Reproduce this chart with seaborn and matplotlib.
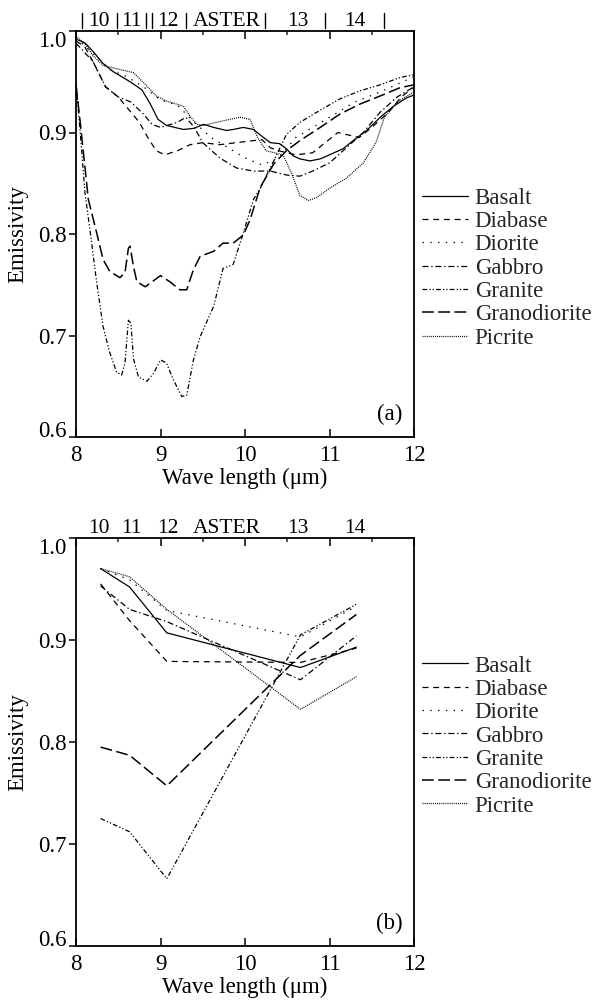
import numpy as np
import pandas as pd
import matplotlib
matplotlib.use("Agg")
import matplotlib.pyplot as plt
import seaborn as sns

sns.set_theme(style="ticks")
plt.rcParams["font.family"] = ["Liberation Serif", "DejaVu Serif"]
plt.rcParams["lines.scale_dashes"] = False

rocks = ["Basalt", "Diabase", "Diorite", "Gabbro", "Granite", "Granodiorite", "Picrite"]

# ---------------- panel (a): laboratory spectra ----------------
basalt_x = [8.0, 8.11, 8.2, 8.32, 8.44, 8.64, 8.78, 8.88, 8.97, 9.07, 9.17, 9.27, 9.39, 9.51,
            9.63, 9.78, 9.86, 9.98, 10.1, 10.22, 10.3, 10.41, 10.49, 10.57, 10.65, 10.77,
            10.89, 11.0, 11.16, 11.28, 11.44, 11.6, 11.76, 11.91, 12.0]
basalt_y = [0.992, 0.988, 0.980, 0.968, 0.960, 0.950, 0.942, 0.928, 0.913, 0.907, 0.905, 0.903,
            0.904, 0.908, 0.905, 0.902, 0.903, 0.905, 0.903, 0.895, 0.890, 0.889, 0.884, 0.877,
            0.874, 0.872, 0.874, 0.878, 0.884, 0.892, 0.902, 0.915, 0.926, 0.934, 0.937]

diabase_x = [8.0, 8.1, 8.2, 8.35, 8.5, 8.65, 8.75, 8.85, 8.95, 9.05, 9.2, 9.35, 9.5, 9.7, 9.9,
             10.1, 10.2, 10.3, 10.4, 10.6, 10.8, 10.95, 11.1, 11.2, 11.35, 11.5, 11.7, 11.85, 12.0]
diabase_y = [0.990, 0.985, 0.970, 0.945, 0.935, 0.920, 0.910, 0.895, 0.882, 0.878, 0.882, 0.888,
             0.890, 0.888, 0.890, 0.892, 0.893, 0.885, 0.882, 0.878, 0.880, 0.890, 0.900, 0.898,
             0.895, 0.905, 0.920, 0.935, 0.945]

diorite_x = [8.0, 8.2, 8.4, 8.6, 8.8, 9.0, 9.2, 9.4, 9.6, 9.8, 10.0, 10.2, 10.4, 10.6, 10.8,
             11.0, 11.3, 11.6, 12.0]
diorite_y = [0.993, 0.978, 0.962, 0.955, 0.945, 0.932, 0.927, 0.910, 0.895, 0.885, 0.875, 0.868,
             0.875, 0.895, 0.905, 0.915, 0.930, 0.940, 0.955]

gabbro_x = [8.0, 8.2, 8.35, 8.5, 8.65, 8.8, 8.9, 9.0, 9.2, 9.3, 9.4, 9.5, 9.7, 9.9, 10.1, 10.3,
            10.5, 10.65, 10.8, 11.0, 11.2, 11.4, 11.6, 11.8, 12.0]
gabbro_y = [0.988, 0.970, 0.945, 0.935, 0.930, 0.918, 0.908, 0.905, 0.910, 0.915, 0.905, 0.890,
            0.875, 0.865, 0.862, 0.862, 0.858, 0.857, 0.862, 0.870, 0.885, 0.900, 0.920, 0.935,
            0.945]

granite_x = [8.0, 8.05, 8.107, 8.17, 8.245, 8.32, 8.40, 8.48, 8.54, 8.58, 8.62, 8.65, 8.68, 8.74,
             8.84, 8.92, 9.0, 9.07, 9.15, 9.25, 9.31, 9.39, 9.47, 9.63, 9.74, 9.86, 9.98, 10.1,
             10.18, 10.34, 10.49, 10.65, 10.89, 11.12, 11.36, 11.6, 11.83, 12.0]
granite_y = [0.950, 0.900, 0.840, 0.801, 0.752, 0.709, 0.683, 0.664, 0.661, 0.673, 0.715, 0.712,
             0.677, 0.659, 0.655, 0.663, 0.676, 0.673, 0.657, 0.640, 0.641, 0.676, 0.699, 0.729,
             0.766, 0.770, 0.801, 0.834, 0.845, 0.872, 0.898, 0.910, 0.922, 0.933, 0.941, 0.947,
             0.954, 0.957]

granodiorite_x = [8.0, 8.05, 8.146, 8.245, 8.32, 8.40, 8.52, 8.58, 8.62, 8.64, 8.68, 8.72, 8.82,
                  9.0, 9.11, 9.23, 9.31, 9.39, 9.47, 9.63, 9.74, 9.86, 9.98, 10.06, 10.18, 10.34,
                  10.49, 10.65, 10.89, 11.12, 11.36, 11.6, 11.83, 12.0]
granodiorite_y = [0.947, 0.910, 0.834, 0.801, 0.775, 0.763, 0.757, 0.762, 0.786, 0.788, 0.768,
                  0.753, 0.748, 0.759, 0.753, 0.745, 0.745, 0.765, 0.778, 0.783, 0.791, 0.791,
                  0.799, 0.814, 0.846, 0.869, 0.882, 0.892, 0.905, 0.918, 0.928, 0.936, 0.944,
                  0.947]

picrite_x = [8.0, 8.1, 8.2, 8.32, 8.52, 8.68, 8.80, 8.95, 9.07, 9.19, 9.27, 9.35, 9.43, 9.51,
             9.66, 9.82, 9.94, 10.06, 10.15, 10.25, 10.35, 10.45, 10.55, 10.65, 10.75, 10.85,
             11.0, 11.2, 11.4, 11.55, 11.65, 11.8, 12.0]
picrite_y = [0.995, 0.988, 0.976, 0.966, 0.962, 0.959, 0.949, 0.936, 0.931, 0.928, 0.926, 0.916,
             0.908, 0.907, 0.910, 0.913, 0.915, 0.913, 0.895, 0.882, 0.880, 0.878, 0.860, 0.838,
             0.833, 0.836, 0.845, 0.855, 0.870, 0.890, 0.915, 0.930, 0.940]

# ---------------- panel (b): ASTER band averages ----------------
band_x = [8.291, 8.634, 9.075, 10.657, 11.318]
b_basalt = [0.970, 0.952, 0.907, 0.873, 0.893]
b_diabase = [0.955, 0.919, 0.879, 0.878, 0.892]
b_diorite = [0.970, 0.959, 0.929, 0.903, 0.933]
b_gabbro = [0.953, 0.930, 0.918, 0.861, 0.904]
b_granite = [0.725, 0.712, 0.666, 0.905, 0.935]
b_granodiorite = [0.795, 0.787, 0.757, 0.885, 0.925]
b_picrite = [0.970, 0.962, 0.930, 0.832, 0.864]

# ASTER TIR band markers (as drawn) and labels
band_edges = [8.07, 8.49, 8.83, 8.90, 9.30, 10.24, 10.95, 11.64]
band_labels = ["10", "11", "12", "ASTER", "13", "14"]
band_label_x = [8.27, 8.66, 9.09, 9.78, 10.62, 11.30]

spec_a = {
    "Basalt": (basalt_x, basalt_y), "Diabase": (diabase_x, diabase_y),
    "Diorite": (diorite_x, diorite_y), "Gabbro": (gabbro_x, gabbro_y),
    "Granite": (granite_x, granite_y), "Granodiorite": (granodiorite_x, granodiorite_y),
    "Picrite": (picrite_x, picrite_y),
}
spec_b = {
    "Basalt": b_basalt, "Diabase": b_diabase, "Diorite": b_diorite, "Gabbro": b_gabbro,
    "Granite": b_granite, "Granodiorite": b_granodiorite, "Picrite": b_picrite,
}
df_a = pd.concat([pd.DataFrame({"wl": x, "em": y, "rock": r}) for r, (x, y) in spec_a.items()])
df_b = pd.concat([pd.DataFrame({"wl": band_x, "em": v, "rock": r}) for r, v in spec_b.items()])

dash_map = {
    "Basalt": "",
    "Diabase": (4.3, 3.4),
    "Diorite": (1.0, 4.6),
    "Gabbro": (4.3, 2.0, 1.0, 2.0),
    "Granite": (3.4, 1.6, 0.9, 1.4, 0.9, 1.6),
    "Granodiorite": (8.5, 3.2),
    "Picrite": (0.7, 0.8),
}
lw_map = {"Basalt": 0.9, "Diabase": 0.9, "Diorite": 0.9, "Gabbro": 0.9, "Granite": 0.9,
          "Granodiorite": 1.1, "Picrite": 0.9}

FS = 16.5
FS_BAND = 15.5
fig = plt.figure(figsize=(5.99, 10.01), dpi=100)
W, H = 599.0, 1001.0
ax_a = fig.add_axes([76 / W, 1 - 437 / H, 338 / W, 406 / H])
ax_b = fig.add_axes([76 / W, 1 - 946 / H, 338 / W, 408 / H])


def draw(ax, df, tag, leg_center_y, bars):
    sns.lineplot(data=df, x="wl", y="em", style="rock", style_order=rocks, dashes=dash_map,
                 color="black", estimator=None, sort=False, legend=False, ax=ax, linewidth=0.9)
    for ln, r in zip(ax.lines, rocks):
        ln.set_linewidth(lw_map[r])
    ax.set_xlim(8, 12)
    ax.set_ylim(0.6, 1.0)
    ax.set_xticks([8, 9, 10, 11, 12])
    ax.set_yticks([0.6, 0.7, 0.8, 0.9, 1.0])
    ax.set_yticklabels(["0.6", "0.7", "0.8", "0.9", "1.0"])
    ax.tick_params(axis="x", which="major", direction="in", length=6, width=1.1, pad=6,
                   labelsize=FS, top=True, bottom=True, color="black", labelcolor="black")
    ax.set_xticks([8.5, 9.5, 10.5, 11.5], minor=True)
    ax.tick_params(axis="x", which="minor", direction="in", length=3, width=1.1,
                   top=True, bottom=False)
    ax.tick_params(axis="y", which="major", direction="out", length=5, width=1.1, pad=2,
                   labelsize=FS, left=True, right=False, color="black", labelcolor="black")
    labs = ax.get_yticklabels()
    labs[-1].set_va("top")
    labs[0].set_va("baseline")
    for s in ax.spines.values():
        s.set_visible(True)
        s.set_linewidth(1.3)
        s.set_color("black")
    ax.set_facecolor("white")
    ax.set_xlabel("Wave length (\u03bcm)", fontsize=FS, color="black")
    ax.set_ylabel("Emissivity", fontsize=FS, color="black")
    ax.xaxis.set_label_coords(0.5, -0.075)
    ax.yaxis.set_label_coords(-0.14, 0.5)
    ax.text(0.965, 0.03, tag, transform=ax.transAxes, ha="right", va="bottom", fontsize=FS,
            color="black")
    trans = ax.get_xaxis_transform()
    for lx, lt in zip(band_label_x, band_labels):
        ax.text(lx, 1.024, lt, transform=trans, ha="center", va="center", fontsize=FS_BAND,
                color="black", clip_on=False)
    if bars:
        for bx in band_edges:
            ax.plot([bx, bx], [1.008, 1.045], transform=trans, color="black", lw=1.0,
                    clip_on=False)
    handles = ax.lines[:len(rocks)]
    fig.legend(handles=handles, labels=rocks, loc="center left",
               bbox_to_anchor=(422 / W, 1 - leg_center_y / H), frameon=False, fontsize=FS,
               handlelength=2.0, handletextpad=0.3, labelspacing=0.1, borderpad=0,
               borderaxespad=0)


draw(ax_a, df_a, "(a)", 268, True)
draw(ax_b, df_b, "(b)", 736, False)

fig.savefig("out.png", dpi=100, facecolor="white")
